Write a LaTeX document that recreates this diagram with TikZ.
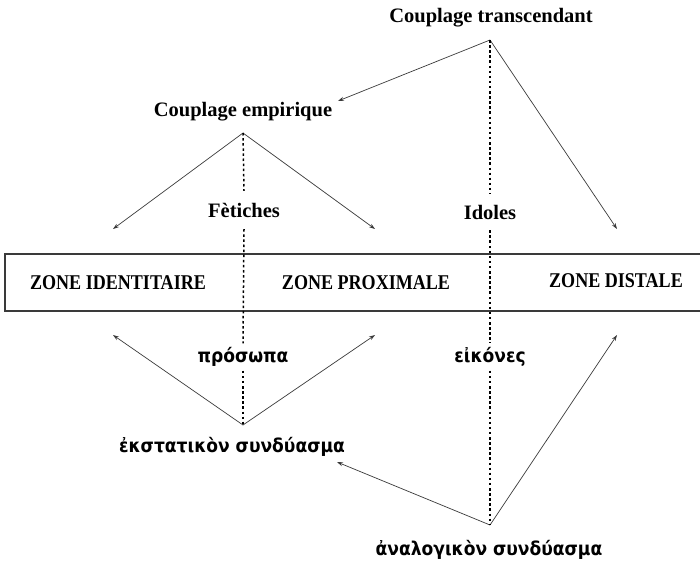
\documentclass[tikz,border=0pt]{standalone}
\usepackage{fontspec}
\setmainfont{Liberation Serif}
\newfontfamily\zonefont{Liberation Serif}[FakeStretch=0.86]
\newfontfamily\grk{DejaVu Sans Condensed}
\usetikzlibrary{arrows.meta}
\definecolor{lncol}{HTML}{3A3A3A}
\tikzset{
  lat/.style={font=\bfseries\fontsize{20.5}{24}\selectfont, inner sep=0pt},
  zone/.style={font=\zonefont\bfseries\fontsize{21}{24}\selectfont, inner sep=0pt},
  gr/.style={font=\grk\bfseries\fontsize{19}{23}\selectfont, inner sep=0pt},
  arr/.style={draw=lncol, line width=0.7pt, -{Stealth[length=6pt,width=4pt]}},
  dotl/.style={draw=black, line width=1.5pt, dash pattern=on 2.5pt off 2.6pt},
}
\begin{document}
\begin{tikzpicture}[x=1pt,y=-1pt]
\useasboundingbox (0,0) rectangle (700,562);
% box
\node[draw=lncol, line width=1.2pt, minimum width=712pt, minimum height=57pt, inner sep=0pt] (box) at (361,282.5) {};
% titles
\node[lat] (ct) at (491,18) {Couplage transcendant};
\coordinate (cta) at (490,40);
\node[lat] (ce) at (243,112) {Couplage empirique};
\coordinate (cea) at (243,133);
\coordinate (ceR) at (338,101);
% mid labels
\node[lat, minimum height=38pt] (fet) at (244,210) {Fètiches};
\node[lat, minimum height=36pt] (ido) at (490,212) {Idoles};
\node[gr, minimum height=27pt] (pro) at (243,357) {πρόσωπα};
\node[gr, minimum height=27pt] (eik) at (490,357) {εἰκόνες};
% zones
\node[zone] (zi) at (118,283) {ZONE IDENTITAIRE};
\node[zone] (zp) at (366,283) {ZONE PROXIMALE};
\node[zone] (zd) at (616,281) {ZONE DISTALE};
% bottom
\coordinate (esa) at (243,425);
\node[gr, anchor=base] (es) at (232,452) {ἐκστατικὸν συνδύασμα};
\coordinate (esR) at (337,462);
\coordinate (asa) at (490,525);
\node[gr, anchor=base] (as) at (489,555) {ἀναλογικὸν συνδύασμα};
% arrow targets
\coordinate (t1) at (113,229);
\coordinate (t2) at (375,229);
\coordinate (t3) at (617,229);
\coordinate (b1) at (113,335);
\coordinate (b2) at (375,335);
\coordinate (b3) at (617,335);
% arrows
\draw[arr] (cta) -- (ceR);
\draw[arr] (cta) -- (t3);
\draw[arr] (cea) -- (t1);
\draw[arr] (cea) -- (t2);
\draw[arr] (esa) -- (b1);
\draw[arr] (esa) -- (b2);
\draw[arr] (asa) -- (esR);
\draw[arr] (asa) -- (b3);
% dotted
\draw[dotl] (cta) -- (ido.north);
\draw[dotl] (ido.south) -- (eik.north);
\draw[dotl] (eik.south) -- (asa);
\draw[dotl] (cea) -- (fet.north);
\draw[dotl] (fet.south) -- (pro.north);
\draw[dotl] (pro.south) -- (esa);
\end{tikzpicture}
\end{document}
